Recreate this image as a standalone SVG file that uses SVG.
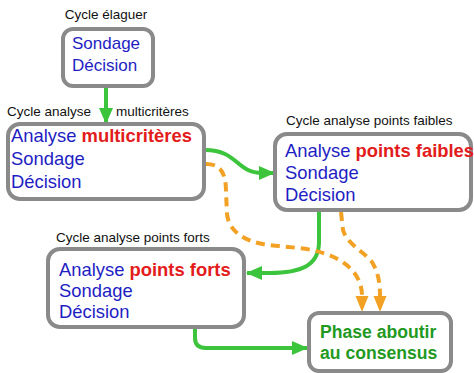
<svg xmlns="http://www.w3.org/2000/svg" width="474" height="373" viewBox="0 0 474 373">
<defs>
<style>
.box{fill:#fff;stroke:#8a8a8a;stroke-width:4}
.lbl{font-family:"Liberation Sans",Arial,sans-serif;font-size:13.5px;fill:#111}
.t{font-family:"Liberation Sans",Arial,sans-serif;font-size:18.4px;fill:#1e1ec4}
.r{fill:#e31b1b;font-weight:bold}
.g{font-family:"Liberation Sans",Arial,sans-serif;font-size:17.6px;font-weight:bold;fill:#1f9a1f}
.gl{fill:none;stroke:#3cc43c;stroke-width:4}
.ol{fill:none;stroke:#f2a124;stroke-width:4;stroke-dasharray:9 6}
</style>
<marker id="ga" markerUnits="userSpaceOnUse" markerWidth="16" markerHeight="16" viewBox="0 0 16 16" refX="15" refY="8" orient="auto"><path d="M0,1 L16,8 L0,15 Z" fill="#3cc43c"/></marker>
<marker id="oa" markerUnits="userSpaceOnUse" markerWidth="16" markerHeight="16" viewBox="0 0 16 16" refX="15" refY="8" orient="auto"><path d="M0,1.5 L16,8 L0,14.5 Z" fill="#f2a124"/></marker>
</defs>
<rect width="474" height="373" fill="#fff"/>
<g id="connectors">
<path class="gl" d="M106,86 L106,123" marker-end="url(#ga)"/>
<path class="gl" d="M205,150 C238,150 236,173 262,173 L274,173" marker-end="url(#ga)"/>
<path class="gl" d="M319,211 L319,242 C319,266 300,273 270,273 L247,273" marker-end="url(#ga)"/>
<path class="gl" d="M195,329 L195,338 Q195,348 206,348 L307,348" marker-end="url(#ga)"/>
<path class="ol" d="M206,164 C220,164 226,172 226,192 L227,214 C229,234 250,245 280,246 L298,248 C338,252 362,270 362,296"/>
<path class="ol" d="M341,212 L343,230 C347,244 362,250 372,262 C378,272 380,282 380,296"/>
<path d="M362,296 L362,311" stroke="none" marker-end="url(#oa)" fill="none"/>
<path d="M380,296 L380,311" stroke="none" marker-end="url(#oa)" fill="none"/>
</g>
<g id="n1">
<text class="lbl" x="106" y="19" text-anchor="middle">Cycle élaguer</text>
<rect class="box" x="63" y="29" width="90" height="57" rx="10"/>
<text class="t" x="72" y="49" style="font-size:17px">Sondage</text>
<text class="t" x="72" y="71" style="font-size:17px">Décision</text>
</g>
<g id="n2">
<text class="lbl" x="7" y="116">Cycle analyse</text>
<text class="lbl" x="116" y="116">multicritères</text>
<rect class="box" x="8" y="124" width="196" height="75" rx="12"/>
<text class="t" x="11" y="142">Analyse <tspan class="r">multicritères</tspan></text>
<text class="t" x="11" y="165">Sondage</text>
<text class="t" x="11" y="188">Décision</text>
</g>
<g id="n3">
<text class="lbl" x="286" y="125">Cycle analyse points faibles</text>
<rect class="box" x="275" y="134" width="196" height="76" rx="12"/>
<text class="t" x="285" y="157">Analyse <tspan class="r">points faibles</tspan></text>
<text class="t" x="285" y="179">Sondage</text>
<text class="t" x="285" y="201">Décision</text>
</g>
<g id="n4">
<text class="lbl" x="56" y="242">Cycle analyse points forts</text>
<rect class="box" x="48" y="249" width="196" height="78" rx="12"/>
<text class="t" x="59" y="276">Analyse <tspan class="r">points forts</tspan></text>
<text class="t" x="59" y="297">Sondage</text>
<text class="t" x="59" y="318">Décision</text>
</g>
<g id="n5">
<rect class="box" x="309" y="313" width="142" height="58" rx="10"/>
<text class="g" x="320" y="338">Phase aboutir</text>
<text class="g" x="320" y="359">au consensus</text>
</g>
</svg>
